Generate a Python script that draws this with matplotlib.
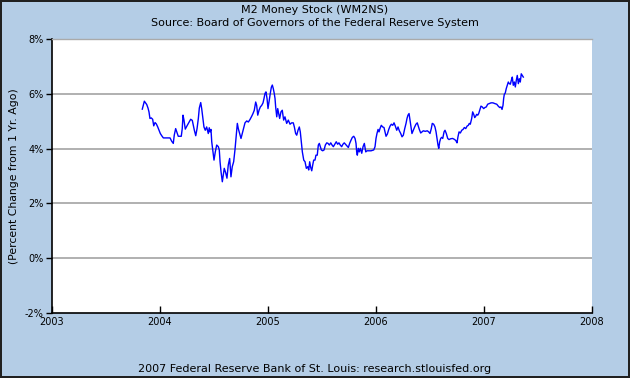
import matplotlib
matplotlib.use("Agg")
import matplotlib.pyplot as plt

# decimal years / percent change
years = [
    2003.836, 2003.855, 2003.877, 2003.889, 2003.898, 2003.907, 2003.919, 2003.932, 2003.942, 2003.954,
    2003.966, 2003.979, 2003.991, 2004.003, 2004.016, 2004.031, 2004.062, 2004.093, 2004.108, 2004.123,
    2004.132, 2004.145, 2004.157, 2004.169, 2004.197, 2004.206, 2004.213, 2004.222, 2004.234, 2004.250,
    2004.266, 2004.284, 2004.299, 2004.318, 2004.331, 2004.343, 2004.355, 2004.364, 2004.377, 2004.386,
    2004.395, 2004.407, 2004.419, 2004.432, 2004.447, 2004.456,
    2004.463, 2004.472, 2004.479, 2004.488, 2004.500, 2004.512, 2004.525, 2004.540, 2004.549, 2004.556,
    2004.565, 2004.577, 2004.586, 2004.595, 2004.608, 2004.620, 2004.632, 2004.645, 2004.657, 2004.669,
    2004.682, 2004.694, 2004.706, 2004.716, 2004.725, 2004.738, 2004.750, 2004.762, 2004.775, 2004.787,
    2004.803, 2004.818, 2004.833, 2004.849, 2004.861, 2004.873, 2004.886, 2004.895, 2004.905, 2004.917,
    2004.929, 2004.942, 2004.954, 2004.963, 2004.972, 2004.981, 2004.991, 2005.000, 2005.009, 2005.021,
    2005.031, 2005.040, 2005.049, 2005.058, 2005.065, 2005.071, 2005.081, 2005.090, 2005.099, 2005.108,
    2005.120, 2005.132, 2005.145, 2005.157, 2005.173, 2005.188, 2005.204, 2005.219, 2005.234, 2005.244,
    2005.256, 2005.266, 2005.278, 2005.290, 2005.299, 2005.308, 2005.318, 2005.331, 2005.343, 2005.355,
    2005.368, 2005.377, 2005.386, 2005.395, 2005.405, 2005.414, 2005.423, 2005.435, 2005.444, 2005.456,
    2005.466, 2005.475, 2005.484, 2005.494, 2005.506, 2005.519, 2005.531, 2005.544, 2005.556, 2005.568,
    2005.581, 2005.593, 2005.605, 2005.618,
    2005.632, 2005.645, 2005.657, 2005.669, 2005.682, 2005.694, 2005.706, 2005.719, 2005.731, 2005.744,
    2005.756, 2005.769, 2005.781, 2005.794, 2005.806, 2005.815, 2005.821, 2005.827, 2005.836, 2005.845,
    2005.855, 2005.868, 2005.880, 2005.892, 2005.905, 2005.917, 2005.929, 2005.954, 2005.979, 2005.991,
    2006.000, 2006.009, 2006.019, 2006.028, 2006.037, 2006.049, 2006.062, 2006.074, 2006.083, 2006.093,
    2006.105, 2006.118, 2006.130, 2006.142, 2006.155, 2006.167, 2006.179, 2006.192, 2006.204, 2006.216,
    2006.229, 2006.241, 2006.253, 2006.266, 2006.278, 2006.287, 2006.296, 2006.306, 2006.315, 2006.324,
    2006.333, 2006.345, 2006.358, 2006.370, 2006.382, 2006.392, 2006.401, 2006.414, 2006.426, 2006.438,
    2006.456, 2006.475, 2006.488, 2006.500, 2006.512, 2006.521, 2006.534, 2006.546, 2006.556, 2006.565,
    2006.574, 2006.581, 2006.590, 2006.599, 2006.608, 2006.618, 2006.630, 2006.639, 2006.651, 2006.664,
    2006.676, 2006.692, 2006.710, 2006.729, 2006.741, 2006.750, 2006.759, 2006.769, 2006.781, 2006.794,
    2006.806, 2006.818,
    2006.831, 2006.843, 2006.855, 2006.864, 2006.873, 2006.886, 2006.895, 2006.905, 2006.914, 2006.923,
    2006.932, 2006.942, 2006.951, 2006.963, 2006.972, 2006.984, 2006.997, 2007.009, 2007.021, 2007.034,
    2007.046, 2007.065, 2007.083, 2007.102, 2007.118, 2007.132, 2007.145, 2007.157, 2007.167, 2007.176,
    2007.182, 2007.188, 2007.197, 2007.206, 2007.216, 2007.225, 2007.234, 2007.244, 2007.253, 2007.262,
    2007.271, 2007.281, 2007.290, 2007.299, 2007.308, 2007.318, 2007.327, 2007.336, 2007.345, 2007.355,
    2007.364,
]
pct_change = [
    5.44, 5.73, 5.61, 5.48, 5.34, 5.10, 5.12, 5.07, 4.83, 4.95,
    4.90, 4.79, 4.67, 4.55, 4.47, 4.39, 4.39, 4.39, 4.27, 4.19,
    4.49, 4.73, 4.59, 4.45, 4.45, 4.73, 5.22, 5.04, 4.71, 4.83,
    4.94, 5.07, 5.03, 4.67, 4.47, 4.73, 5.10, 5.48, 5.68, 5.46,
    5.16, 4.79, 4.67, 4.79, 4.55, 4.76,
    4.61, 4.70, 4.25, 3.95, 3.58, 3.88, 4.13, 4.07, 3.95, 3.52,
    3.16, 2.79, 3.04, 3.28, 3.12, 2.92, 3.40, 3.64, 2.97, 3.34,
    3.52, 3.95, 4.49, 4.92, 4.73, 4.55, 4.37, 4.55, 4.73, 4.94,
    5.01, 4.97, 5.06, 5.18, 5.28, 5.40, 5.70, 5.58, 5.22, 5.40,
    5.52, 5.58, 5.67, 5.83, 6.01, 6.07, 5.83, 5.46, 5.70, 6.01,
    6.24, 6.32, 6.19, 6.01, 5.83, 5.52, 5.16, 5.46, 5.28, 5.10,
    5.34, 5.40, 5.04, 5.16, 4.92, 5.04, 4.89, 4.94, 4.94, 4.79,
    4.55, 4.49, 4.67, 4.79, 4.61, 4.25, 3.88, 3.58, 3.52, 3.28,
    3.34, 3.22, 3.52, 3.32, 3.19, 3.40, 3.58, 3.58, 3.76, 3.76,
    4.13, 4.19, 4.07, 3.95, 3.92, 3.95, 4.13, 4.21, 4.19, 4.13,
    4.21, 4.13, 4.07, 4.16,
    4.25, 4.16, 4.21, 4.13, 4.07, 4.16, 4.21, 4.15, 4.09, 4.04,
    4.19, 4.31, 4.41, 4.45, 4.37, 4.19, 3.88, 3.76, 4.01, 3.88,
    4.01, 3.83, 4.07, 4.19, 3.88, 3.92, 3.92, 3.92, 3.95, 4.07,
    4.37, 4.55, 4.70, 4.61, 4.73, 4.85, 4.79, 4.77, 4.61, 4.45,
    4.53, 4.70, 4.82, 4.89, 4.85, 4.94, 4.82, 4.67, 4.79, 4.65,
    4.55, 4.43, 4.49, 4.73, 4.92, 5.10, 5.22, 5.28, 5.04, 4.79,
    4.55, 4.67, 4.79, 4.89, 4.94, 4.82, 4.70, 4.57, 4.61, 4.65,
    4.63, 4.65, 4.61, 4.55, 4.73, 4.92, 4.89, 4.79, 4.61, 4.37,
    4.13, 4.01, 4.25, 4.37, 4.41, 4.37, 4.61, 4.67, 4.55, 4.37,
    4.33, 4.36, 4.37, 4.33, 4.28, 4.21, 4.43, 4.61, 4.57, 4.67,
    4.70, 4.77,
    4.73, 4.82, 4.85, 4.92, 4.89, 5.10, 5.34, 5.25, 5.13, 5.18,
    5.25, 5.22, 5.28, 5.43, 5.55, 5.52, 5.46, 5.50, 5.52, 5.62,
    5.64, 5.67, 5.67, 5.64, 5.62, 5.55, 5.50, 5.52, 5.43, 5.58,
    5.83, 5.98, 6.03, 6.19, 6.31, 6.43, 6.37, 6.35, 6.49, 6.61,
    6.31, 6.43, 6.25, 6.49, 6.67, 6.37, 6.55, 6.43, 6.73, 6.67,
    6.61,
]

year_ticks = [2003, 2004, 2005, 2006, 2007, 2008]
pct_ticks = [-2, 0, 2, 4, 6, 8]
pct_labels = ["-2%", "0%", "2%", "4%", "6%", "8%"]

bg = "#b4cde6"
grid_col = "#aaaaaa"

fig = plt.figure(figsize=(6.3, 3.78), dpi=100, facecolor=bg)
fig.patch.set_edgecolor("#202020")
fig.patch.set_linewidth(1.5)

ax = fig.add_axes([52 / 630, 1 - 313 / 378, 540 / 630, 274 / 378])
ax.set_facecolor("white")

ax.plot(years, pct_change, color="#0000ff", linewidth=1.0, zorder=3)

ax.set_xlim(2003, 2008)
ax.set_ylim(-2, 8)

# horizontal grid at the inner ticks only
for v in pct_ticks[1:-1]:
    ax.axhline(v, color=grid_col, linewidth=1.3, zorder=1)

ax.set_xticks(year_ticks)
ax.set_xticklabels([str(y) for y in year_ticks])
ax.set_yticks(pct_ticks)
ax.set_yticklabels(pct_labels)

ax.tick_params(axis="x", direction="in", length=5, width=1, pad=3, labelsize=7, colors="black")
ax.tick_params(axis="y", direction="out", length=4, width=1, pad=2, labelsize=7, colors="black")
ax.tick_params(axis="x", which="both", top=False)
ax.tick_params(axis="y", which="both", right=False)

for side in ("left", "bottom"):
    ax.spines[side].set_color("black")
    ax.spines[side].set_linewidth(1.2)
ax.spines["top"].set_color(grid_col)
ax.spines["top"].set_linewidth(1.0)
ax.spines["right"].set_visible(False)

ax.set_ylabel("(Percent Change from 1 Yr. Ago)", fontsize=7.8, labelpad=4)

fig.text(0.5, 1 - 10 / 378, "M2 Money Stock (WM2NS)", ha="center", va="center", fontsize=8)
fig.text(0.5, 1 - 23 / 378, "Source: Board of Governors of the Federal Reserve System",
         ha="center", va="center", fontsize=8)
fig.text(0.5, 1 - 369 / 378, "2007 Federal Reserve Bank of St. Louis: research.stlouisfed.org",
         ha="center", va="center", fontsize=8)

fig.savefig("out.png", dpi=100, facecolor=bg, edgecolor="#202020")
